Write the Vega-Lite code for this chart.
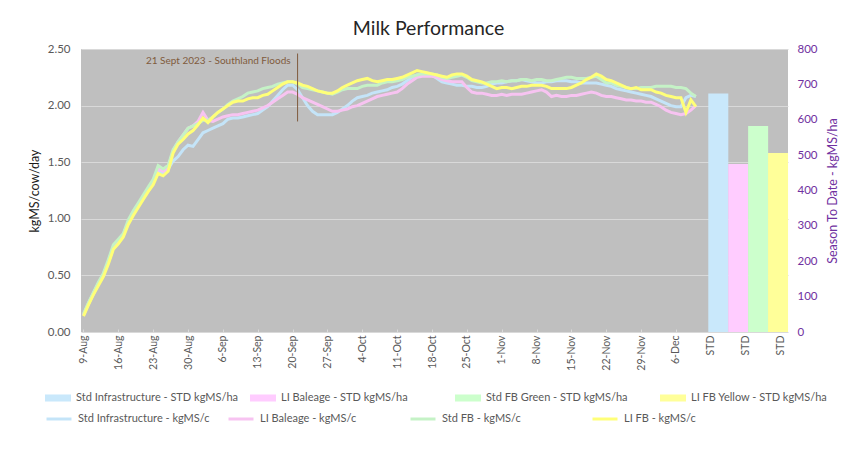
{
  "$schema": "https://vega.github.io/schema/vega-lite/v6.json",
  "width": 707,
  "height": 283,
  "autosize": {"type": "none"},
  "padding": {"left": 81, "top": 49, "right": 64, "bottom": 120},
  "background": "white",
  "title": {
    "text": "Milk Performance",
    "font": "Lato",
    "fontSize": 19.5,
    "fontWeight": "normal",
    "color": "#262626",
    "anchor": "middle",
    "frame": "group",
    "offset": 4,
    "dx": -6
  },
  "config": {
    "view": {"fill": "#BFBFBF", "stroke": null},
    "font": "Lato",
    "axis": {
      "labelFont": "Lato",
      "titleFont": "Lato",
      "labelColor": "#595959",
      "titleFontWeight": "normal",
      "domain": false,
      "ticks": false
    },
    "axisX": {"labelOverlap": false},
    "legend": {"padding": 0}
  },
  "datasets": {
    "daily": [
      {"date": "2023-08-09", "SI": 0.15, "LB": 0.15, "SF": 0.16, "LF": 0.14},
      {"date": "2023-08-10", "SI": 0.25, "LB": 0.25, "SF": 0.26, "LF": 0.24},
      {"date": "2023-08-11", "SI": 0.34, "LB": 0.34, "SF": 0.35, "LF": 0.33},
      {"date": "2023-08-12", "SI": 0.43, "LB": 0.43, "SF": 0.44, "LF": 0.41},
      {"date": "2023-08-13", "SI": 0.51, "LB": 0.51, "SF": 0.52, "LF": 0.49},
      {"date": "2023-08-14", "SI": 0.62, "LB": 0.62, "SF": 0.64, "LF": 0.60},
      {"date": "2023-08-15", "SI": 0.75, "LB": 0.75, "SF": 0.77, "LF": 0.73},
      {"date": "2023-08-16", "SI": 0.80, "LB": 0.80, "SF": 0.82, "LF": 0.78},
      {"date": "2023-08-17", "SI": 0.86, "LB": 0.86, "SF": 0.87, "LF": 0.84},
      {"date": "2023-08-18", "SI": 0.97, "LB": 0.97, "SF": 0.99, "LF": 0.95},
      {"date": "2023-08-19", "SI": 1.05, "LB": 1.05, "SF": 1.07, "LF": 1.03},
      {"date": "2023-08-20", "SI": 1.12, "LB": 1.12, "SF": 1.14, "LF": 1.10},
      {"date": "2023-08-21", "SI": 1.19, "LB": 1.19, "SF": 1.21, "LF": 1.17},
      {"date": "2023-08-22", "SI": 1.26, "LB": 1.26, "SF": 1.28, "LF": 1.24},
      {"date": "2023-08-23", "SI": 1.33, "LB": 1.33, "SF": 1.35, "LF": 1.30},
      {"date": "2023-08-24", "SI": 1.42, "LB": 1.44, "SF": 1.47, "LF": 1.40},
      {"date": "2023-08-25", "SI": 1.40, "LB": 1.42, "SF": 1.44, "LF": 1.38},
      {"date": "2023-08-26", "SI": 1.44, "LB": 1.45, "SF": 1.47, "LF": 1.42},
      {"date": "2023-08-27", "SI": 1.51, "LB": 1.60, "SF": 1.61, "LF": 1.58},
      {"date": "2023-08-28", "SI": 1.55, "LB": 1.68, "SF": 1.68, "LF": 1.66},
      {"date": "2023-08-29", "SI": 1.61, "LB": 1.74, "SF": 1.74, "LF": 1.70},
      {"date": "2023-08-30", "SI": 1.65, "LB": 1.80, "SF": 1.80, "LF": 1.75},
      {"date": "2023-08-31", "SI": 1.64, "LB": 1.82, "SF": 1.82, "LF": 1.78},
      {"date": "2023-09-01", "SI": 1.70, "LB": 1.86, "SF": 1.84, "LF": 1.83},
      {"date": "2023-09-02", "SI": 1.76, "LB": 1.94, "SF": 1.87, "LF": 1.89},
      {"date": "2023-09-03", "SI": 1.78, "LB": 1.87, "SF": 1.87, "LF": 1.85},
      {"date": "2023-09-04", "SI": 1.80, "LB": 1.86, "SF": 1.90, "LF": 1.90},
      {"date": "2023-09-05", "SI": 1.82, "LB": 1.88, "SF": 1.94, "LF": 1.94},
      {"date": "2023-09-06", "SI": 1.84, "LB": 1.90, "SF": 1.97, "LF": 1.97},
      {"date": "2023-09-07", "SI": 1.88, "LB": 1.91, "SF": 2.01, "LF": 2.00},
      {"date": "2023-09-08", "SI": 1.89, "LB": 1.92, "SF": 2.04, "LF": 2.03},
      {"date": "2023-09-09", "SI": 1.89, "LB": 1.92, "SF": 2.06, "LF": 2.04},
      {"date": "2023-09-10", "SI": 1.90, "LB": 1.93, "SF": 2.08, "LF": 2.04},
      {"date": "2023-09-11", "SI": 1.91, "LB": 1.94, "SF": 2.11, "LF": 2.06},
      {"date": "2023-09-12", "SI": 1.92, "LB": 1.95, "SF": 2.12, "LF": 2.07},
      {"date": "2023-09-13", "SI": 1.93, "LB": 1.96, "SF": 2.13, "LF": 2.07},
      {"date": "2023-09-14", "SI": 1.96, "LB": 1.98, "SF": 2.15, "LF": 2.09},
      {"date": "2023-09-15", "SI": 1.99, "LB": 2.00, "SF": 2.16, "LF": 2.10},
      {"date": "2023-09-16", "SI": 2.04, "LB": 2.03, "SF": 2.17, "LF": 2.13},
      {"date": "2023-09-17", "SI": 2.09, "LB": 2.06, "SF": 2.19, "LF": 2.16},
      {"date": "2023-09-18", "SI": 2.14, "LB": 2.09, "SF": 2.20, "LF": 2.19},
      {"date": "2023-09-19", "SI": 2.18, "LB": 2.12, "SF": 2.21, "LF": 2.21},
      {"date": "2023-09-20", "SI": 2.18, "LB": 2.12, "SF": 2.21, "LF": 2.21},
      {"date": "2023-09-21", "SI": 2.14, "LB": 2.10, "SF": 2.19, "LF": 2.20},
      {"date": "2023-09-22", "SI": 2.07, "LB": 2.07, "SF": 2.16, "LF": 2.18},
      {"date": "2023-09-23", "SI": 2.00, "LB": 2.05, "SF": 2.15, "LF": 2.17},
      {"date": "2023-09-24", "SI": 1.95, "LB": 2.03, "SF": 2.14, "LF": 2.15},
      {"date": "2023-09-25", "SI": 1.92, "LB": 2.01, "SF": 2.13, "LF": 2.13},
      {"date": "2023-09-26", "SI": 1.92, "LB": 1.99, "SF": 2.12, "LF": 2.12},
      {"date": "2023-09-27", "SI": 1.92, "LB": 1.97, "SF": 2.11, "LF": 2.11},
      {"date": "2023-09-28", "SI": 1.92, "LB": 1.95, "SF": 2.10, "LF": 2.11},
      {"date": "2023-09-29", "SI": 1.94, "LB": 1.95, "SF": 2.12, "LF": 2.13},
      {"date": "2023-09-30", "SI": 1.97, "LB": 1.96, "SF": 2.14, "LF": 2.16},
      {"date": "2023-10-01", "SI": 2.00, "LB": 1.97, "SF": 2.15, "LF": 2.18},
      {"date": "2023-10-02", "SI": 2.04, "LB": 1.99, "SF": 2.15, "LF": 2.20},
      {"date": "2023-10-03", "SI": 2.07, "LB": 2.00, "SF": 2.15, "LF": 2.22},
      {"date": "2023-10-04", "SI": 2.08, "LB": 2.02, "SF": 2.17, "LF": 2.23},
      {"date": "2023-10-05", "SI": 2.09, "LB": 2.04, "SF": 2.18, "LF": 2.24},
      {"date": "2023-10-06", "SI": 2.11, "LB": 2.06, "SF": 2.18, "LF": 2.22},
      {"date": "2023-10-07", "SI": 2.12, "LB": 2.08, "SF": 2.18, "LF": 2.21},
      {"date": "2023-10-08", "SI": 2.13, "LB": 2.09, "SF": 2.20, "LF": 2.22},
      {"date": "2023-10-09", "SI": 2.14, "LB": 2.10, "SF": 2.21, "LF": 2.23},
      {"date": "2023-10-10", "SI": 2.16, "LB": 2.11, "SF": 2.21, "LF": 2.23},
      {"date": "2023-10-11", "SI": 2.17, "LB": 2.12, "SF": 2.22, "LF": 2.24},
      {"date": "2023-10-12", "SI": 2.19, "LB": 2.15, "SF": 2.23, "LF": 2.25},
      {"date": "2023-10-13", "SI": 2.22, "LB": 2.19, "SF": 2.25, "LF": 2.27},
      {"date": "2023-10-14", "SI": 2.25, "LB": 2.22, "SF": 2.26, "LF": 2.29},
      {"date": "2023-10-15", "SI": 2.27, "LB": 2.25, "SF": 2.27, "LF": 2.31},
      {"date": "2023-10-16", "SI": 2.28, "LB": 2.26, "SF": 2.28, "LF": 2.30},
      {"date": "2023-10-17", "SI": 2.28, "LB": 2.26, "SF": 2.28, "LF": 2.29},
      {"date": "2023-10-18", "SI": 2.27, "LB": 2.26, "SF": 2.28, "LF": 2.28},
      {"date": "2023-10-19", "SI": 2.24, "LB": 2.25, "SF": 2.27, "LF": 2.27},
      {"date": "2023-10-20", "SI": 2.21, "LB": 2.23, "SF": 2.25, "LF": 2.26},
      {"date": "2023-10-21", "SI": 2.20, "LB": 2.22, "SF": 2.24, "LF": 2.25},
      {"date": "2023-10-22", "SI": 2.19, "LB": 2.21, "SF": 2.25, "LF": 2.27},
      {"date": "2023-10-23", "SI": 2.18, "LB": 2.21, "SF": 2.26, "LF": 2.28},
      {"date": "2023-10-24", "SI": 2.18, "LB": 2.21, "SF": 2.27, "LF": 2.28},
      {"date": "2023-10-25", "SI": 2.17, "LB": 2.16, "SF": 2.25, "LF": 2.26},
      {"date": "2023-10-26", "SI": 2.17, "LB": 2.12, "SF": 2.22, "LF": 2.23},
      {"date": "2023-10-27", "SI": 2.16, "LB": 2.11, "SF": 2.21, "LF": 2.22},
      {"date": "2023-10-28", "SI": 2.16, "LB": 2.11, "SF": 2.20, "LF": 2.21},
      {"date": "2023-10-29", "SI": 2.17, "LB": 2.10, "SF": 2.20, "LF": 2.19},
      {"date": "2023-10-30", "SI": 2.19, "LB": 2.09, "SF": 2.21, "LF": 2.17},
      {"date": "2023-10-31", "SI": 2.20, "LB": 2.09, "SF": 2.21, "LF": 2.15},
      {"date": "2023-11-01", "SI": 2.20, "LB": 2.10, "SF": 2.22, "LF": 2.16},
      {"date": "2023-11-02", "SI": 2.21, "LB": 2.09, "SF": 2.21, "LF": 2.16},
      {"date": "2023-11-03", "SI": 2.22, "LB": 2.10, "SF": 2.22, "LF": 2.15},
      {"date": "2023-11-04", "SI": 2.22, "LB": 2.10, "SF": 2.22, "LF": 2.16},
      {"date": "2023-11-05", "SI": 2.23, "LB": 2.10, "SF": 2.23, "LF": 2.17},
      {"date": "2023-11-06", "SI": 2.22, "LB": 2.11, "SF": 2.23, "LF": 2.17},
      {"date": "2023-11-07", "SI": 2.21, "LB": 2.12, "SF": 2.22, "LF": 2.18},
      {"date": "2023-11-08", "SI": 2.20, "LB": 2.13, "SF": 2.23, "LF": 2.18},
      {"date": "2023-11-09", "SI": 2.20, "LB": 2.14, "SF": 2.23, "LF": 2.18},
      {"date": "2023-11-10", "SI": 2.21, "LB": 2.12, "SF": 2.22, "LF": 2.17},
      {"date": "2023-11-11", "SI": 2.21, "LB": 2.08, "SF": 2.22, "LF": 2.15},
      {"date": "2023-11-12", "SI": 2.22, "LB": 2.09, "SF": 2.23, "LF": 2.15},
      {"date": "2023-11-13", "SI": 2.22, "LB": 2.08, "SF": 2.24, "LF": 2.15},
      {"date": "2023-11-14", "SI": 2.22, "LB": 2.08, "SF": 2.25, "LF": 2.15},
      {"date": "2023-11-15", "SI": 2.21, "LB": 2.09, "SF": 2.25, "LF": 2.16},
      {"date": "2023-11-16", "SI": 2.21, "LB": 2.09, "SF": 2.24, "LF": 2.18},
      {"date": "2023-11-17", "SI": 2.20, "LB": 2.10, "SF": 2.24, "LF": 2.20},
      {"date": "2023-11-18", "SI": 2.20, "LB": 2.11, "SF": 2.24, "LF": 2.23},
      {"date": "2023-11-19", "SI": 2.20, "LB": 2.12, "SF": 2.25, "LF": 2.25},
      {"date": "2023-11-20", "SI": 2.20, "LB": 2.11, "SF": 2.26, "LF": 2.28},
      {"date": "2023-11-21", "SI": 2.19, "LB": 2.09, "SF": 2.23, "LF": 2.26},
      {"date": "2023-11-22", "SI": 2.18, "LB": 2.08, "SF": 2.20, "LF": 2.23},
      {"date": "2023-11-23", "SI": 2.17, "LB": 2.08, "SF": 2.20, "LF": 2.22},
      {"date": "2023-11-24", "SI": 2.15, "LB": 2.07, "SF": 2.18, "LF": 2.20},
      {"date": "2023-11-25", "SI": 2.14, "LB": 2.06, "SF": 2.17, "LF": 2.18},
      {"date": "2023-11-26", "SI": 2.13, "LB": 2.05, "SF": 2.16, "LF": 2.16},
      {"date": "2023-11-27", "SI": 2.12, "LB": 2.05, "SF": 2.15, "LF": 2.15},
      {"date": "2023-11-28", "SI": 2.11, "LB": 2.04, "SF": 2.15, "LF": 2.16},
      {"date": "2023-11-29", "SI": 2.10, "LB": 2.04, "SF": 2.16, "LF": 2.14},
      {"date": "2023-11-30", "SI": 2.09, "LB": 2.03, "SF": 2.16, "LF": 2.14},
      {"date": "2023-12-01", "SI": 2.08, "LB": 2.03, "SF": 2.16, "LF": 2.14},
      {"date": "2023-12-02", "SI": 2.06, "LB": 2.01, "SF": 2.17, "LF": 2.12},
      {"date": "2023-12-03", "SI": 2.04, "LB": 1.99, "SF": 2.17, "LF": 2.11},
      {"date": "2023-12-04", "SI": 2.02, "LB": 1.96, "SF": 2.17, "LF": 2.09},
      {"date": "2023-12-05", "SI": 2.00, "LB": 1.94, "SF": 2.17, "LF": 2.08},
      {"date": "2023-12-06", "SI": 1.99, "LB": 1.93, "SF": 2.16, "LF": 2.07},
      {"date": "2023-12-07", "SI": 1.99, "LB": 1.92, "SF": 2.16, "LF": 2.07},
      {"date": "2023-12-08", "SI": 2.07, "LB": 1.93, "SF": 2.15, "LF": 1.94},
      {"date": "2023-12-09", "SI": 2.09, "LB": 1.96, "SF": 2.11, "LF": 2.05},
      {"date": "2023-12-10", "SI": 2.08, "LB": 2.00, "SF": 2.08, "LF": 1.99}
    ],
    "seasonToDate": [
      {"series": "Std Infrastructure - STD kgMS/ha", "slot": "2023-12-14T12:00:00Z", "value": 674},
      {"series": "LI Baleage - STD kgMS/ha", "slot": "2023-12-18T12:00:00Z", "value": 475},
      {"series": "Std FB Green - STD kgMS/ha", "slot": "2023-12-22T12:00:00Z", "value": 582},
      {"series": "LI FB Yellow - STD kgMS/ha", "slot": "2023-12-26T12:00:00Z", "value": 506}
    ],
    "events": [
      {"date": "2023-09-21", "label": "21 Sept 2023 - Southland Floods"}
    ]
  },
  "layer": [
    {
      "data": {"name": "daily"},
      "transform": [
        {"fold": ["SI", "LB", "SF", "LF"], "as": ["herd", "kgMS"]}
      ],
      "mark": {"type": "line", "strokeWidth": 3, "interpolate": "linear"},
      "encoding": {
        "x": {
          "field": "date",
          "type": "temporal",
          "title": null,
          "scale": {
            "type": "utc",
            "padding": 0,
            "domain": [
              {"year": 2023, "month": 8, "date": 8, "hours": 12, "utc": true},
              {"year": 2023, "month": 12, "date": 28, "hours": 12, "utc": true}
            ]
          },
          "axis": {
            "values": [
              {"year": 2023, "month": 8, "date": 9, "utc": true},
              {"year": 2023, "month": 8, "date": 16, "utc": true},
              {"year": 2023, "month": 8, "date": 23, "utc": true},
              {"year": 2023, "month": 8, "date": 30, "utc": true},
              {"year": 2023, "month": 9, "date": 6, "utc": true},
              {"year": 2023, "month": 9, "date": 13, "utc": true},
              {"year": 2023, "month": 9, "date": 20, "utc": true},
              {"year": 2023, "month": 9, "date": 27, "utc": true},
              {"year": 2023, "month": 10, "date": 4, "utc": true},
              {"year": 2023, "month": 10, "date": 11, "utc": true},
              {"year": 2023, "month": 10, "date": 18, "utc": true},
              {"year": 2023, "month": 10, "date": 25, "utc": true},
              {"year": 2023, "month": 11, "date": 1, "utc": true},
              {"year": 2023, "month": 11, "date": 8, "utc": true},
              {"year": 2023, "month": 11, "date": 15, "utc": true},
              {"year": 2023, "month": 11, "date": 22, "utc": true},
              {"year": 2023, "month": 11, "date": 29, "utc": true},
              {"year": 2023, "month": 12, "date": 6, "utc": true},
              {"year": 2023, "month": 12, "date": 13, "utc": true},
              {"year": 2023, "month": 12, "date": 20, "utc": true},
              {"year": 2023, "month": 12, "date": 27, "utc": true}
            ],
            "tickCount": 40,
            "labelExpr": "datum.value > 1702252800000 ? 'STD' : utcFormat(datum.value, '%-d-%b')",
            "labelAngle": -90,
            "labelFontSize": 10.5,
            "labelPadding": 6,
            "labelColor": "#595959",
            "grid": false,
            "ticks": true,
            "tickSize": -3,
            "tickColor": "#D9D9D9",
            "labelOverlap": false,
            "labelBound": false,
            "labelFlush": false
          }
        },
        "y": {
          "field": "kgMS",
          "type": "quantitative",
          "scale": {"domain": [0, 2.5], "nice": false},
          "axis": {
            "orient": "left",
            "title": "kgMS/cow/day",
            "titleFontSize": 12.5,
            "titleColor": "#1a1a1a",
            "titlePadding": 6,
            "values": [0, 0.5, 1, 1.5, 2, 2.5],
            "tickCount": 20,
            "format": ".2f",
            "labelFontSize": 11.5,
            "labelPadding": 11,
            "grid": true,
            "gridColor": "#D9D9D9",
            "gridWidth": 1
          }
        },
        "stroke": {
          "field": "herd",
          "type": "nominal",
          "scale": {
            "domain": ["SI", "LB", "SF", "LF"],
            "range": ["#C4E4F8", "#F7C3F1", "#C5F2C6", "#FFFF78"]
          },
          "legend": {
            "orient": "none",
            "legendX": -36,
            "legendY": 356,
            "direction": "horizontal",
            "columns": 4,
            "columnPadding": 12,
            "gridAlign": "all",
            "title": null,
            "symbolType": "stroke",
            "symbolSize": 625,
            "symbolStrokeWidth": 3,
            "labelFont": "Lato",
            "labelFontSize": 11,
            "labelColor": "#595959",
            "labelOffset": 5,
            "labelLimit": 300,
            "labelExpr": "datum.label == 'SI' ? 'Std Infrastructure - kgMS/c' : datum.label == 'LB' ? 'LI Baleage - kgMS/c' : datum.label == 'SF' ? 'Std FB  - kgMS/c' : 'LI FB - kgMS/c'"
          }
        }
      }
    },
    {
      "data": {"name": "seasonToDate"},
      "mark": {"type": "bar", "width": 20, "strokeWidth": 0},
      "encoding": {
        "x": {
          "field": "slot",
          "type": "temporal",
          "title": null,
          "scale": {
            "type": "utc",
            "padding": 0,
            "domain": [
              {"year": 2023, "month": 8, "date": 8, "hours": 12, "utc": true},
              {"year": 2023, "month": 12, "date": 28, "hours": 12, "utc": true}
            ]
          },
          "axis": {"labelOverlap": false}
        },
        "y": {
          "field": "value",
          "type": "quantitative",
          "scale": {"domain": [0, 800], "nice": false},
          "axis": {
            "orient": "right",
            "title": "Season To Date - kgMS/ha",
            "titleAngle": 270,
            "titleBaseline": "top",
            "titleColor": "#7030A0",
            "titleFontSize": 12.5,
            "titlePadding": 9,
            "values": [0, 100, 200, 300, 400, 500, 600, 700, 800],
            "tickCount": 20,
            "labelColor": "#7030A0",
            "labelFontSize": 11.5,
            "labelPadding": 9,
            "grid": false
          }
        },
        "fill": {
          "field": "series",
          "type": "nominal",
          "scale": {
            "domain": [
              "Std Infrastructure - STD kgMS/ha",
              "LI Baleage - STD kgMS/ha",
              "Std FB Green - STD kgMS/ha",
              "LI FB Yellow - STD kgMS/ha"
            ],
            "range": ["#C9E8FB", "#FFCCFF", "#CCFFCC", "#FFFF99"]
          },
          "legend": {
            "orient": "none",
            "legendX": -36,
            "legendY": 336,
            "direction": "horizontal",
            "columns": 4,
            "columnPadding": 12,
            "gridAlign": "all",
            "title": null,
            "symbolType": "M-1,-0.27H1V0.27H-1Z",
            "symbolSize": 676,
            "symbolStrokeWidth": 0,
            "labelFont": "Lato",
            "labelFontSize": 11,
            "labelColor": "#595959",
            "labelOffset": 5,
            "labelLimit": 300
          }
        }
      }
    },
    {
      "data": {"name": "events"},
      "mark": {"type": "rule", "color": "#7F5B3D", "strokeWidth": 1},
      "encoding": {
        "x": {
          "field": "date",
          "type": "temporal",
          "title": null,
          "scale": {
            "type": "utc",
            "padding": 0,
            "domain": [
              {"year": 2023, "month": 8, "date": 8, "hours": 12, "utc": true},
              {"year": 2023, "month": 12, "date": 28, "hours": 12, "utc": true}
            ]
          },
          "axis": {"labelOverlap": false}
        },
        "y": {"datum": 1.86, "type": "quantitative", "axis": null, "scale": {"domain": [0, 2.5], "nice": false}},
        "y2": {"datum": 2.46}
      }
    },
    {
      "data": {"name": "events"},
      "mark": {
        "type": "text",
        "align": "right",
        "baseline": "middle",
        "dx": -7,
        "font": "Lato",
        "fontSize": 10,
        "color": "#7F5B3D"
      },
      "encoding": {
        "x": {
          "field": "date",
          "type": "temporal",
          "title": null,
          "scale": {
            "type": "utc",
            "padding": 0,
            "domain": [
              {"year": 2023, "month": 8, "date": 8, "hours": 12, "utc": true},
              {"year": 2023, "month": 12, "date": 28, "hours": 12, "utc": true}
            ]
          },
          "axis": {"labelOverlap": false}
        },
        "y": {"datum": 2.39, "type": "quantitative", "axis": null, "scale": {"domain": [0, 2.5], "nice": false}},
        "text": {"field": "label"}
      }
    }
  ],
  "resolve": {"scale": {"y": "independent"}, "axis": {"y": "independent"}}
}
